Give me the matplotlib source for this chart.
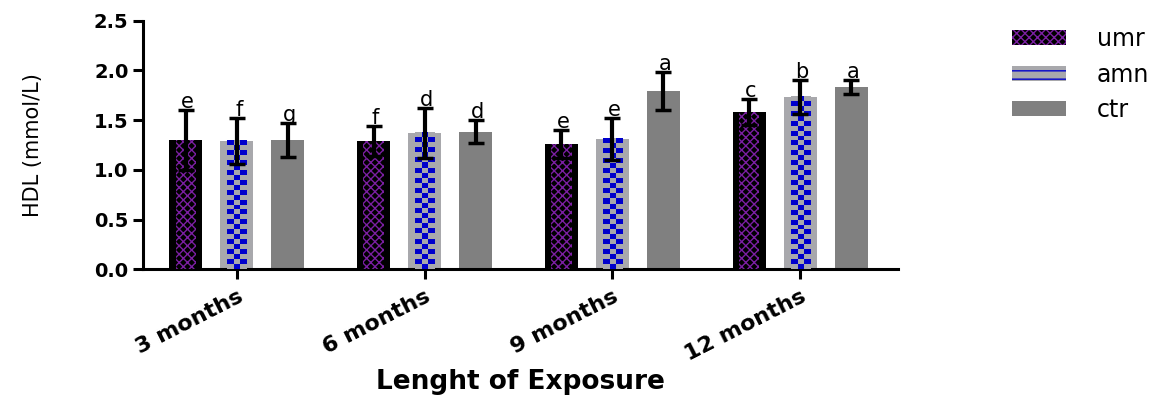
import numpy as np
import matplotlib
matplotlib.use('Agg')
import matplotlib.pyplot as plt
from matplotlib.patches import Patch
from matplotlib.colors import ListedColormap

# HDL values per exposure period (mean, error) for each group
periods = ['3 months', '6 months', '9 months', '12 months']
groups = ['umr', 'amn', 'ctr']

umr_mean = [1.30, 1.29, 1.26, 1.58]
umr_err = [0.30, 0.15, 0.14, 0.13]
amn_mean = [1.29, 1.37, 1.31, 1.73]
amn_err = [0.23, 0.25, 0.21, 0.17]
ctr_mean = [1.30, 1.385, 1.79, 1.83]
ctr_err = [0.17, 0.12, 0.19, 0.07]

umr_letters = ['e', 'f', 'e', 'c']
amn_letters = ['f', 'd', 'e', 'b']
ctr_letters = ['g', 'd', 'a', 'a']

purple = '#7b1fa2'
blue = '#0000cc'
light_gray = '#a8a8ac'
dark_gray = '#808080'

plt.rcParams['hatch.linewidth'] = 1.0

fig = plt.figure(figsize=(11.72, 3.95), dpi=100)
ax = fig.add_axes([0.122, 0.318, 0.644, 0.63])

x = np.arange(len(periods))
offset = 0.272
width = 0.176

# umr: black bar with purple cross-hatched core
ax.bar(x - offset, umr_mean, width, color='black', zorder=2)
ax.bar(x - offset, umr_mean, width * 0.62, color='black', edgecolor=purple,
       hatch='xxxx', linewidth=0, zorder=3)

# amn: light gray bar with a blue checker core
amn_bars = ax.bar(x, amn_mean, width, color=light_gray, zorder=2)
checker_cmap = ListedColormap([light_gray, blue])
for b in amn_bars:
    h = b.get_height()
    nrows = max(int(round(h / 0.05)), 1)
    checker = np.indices((nrows, 3)).sum(axis=0) % 2
    cx = b.get_x() + b.get_width() / 2
    w = b.get_width() * 0.58
    ax.imshow(checker, cmap=checker_cmap, extent=[cx - w / 2, cx + w / 2, 0, h],
              aspect='auto', interpolation='nearest', zorder=3, origin='lower')

# ctr: plain gray bar
ax.bar(x + offset, ctr_mean, width, color=dark_gray, zorder=2)

err_kw = dict(fmt='none', ecolor='black', elinewidth=3, capsize=6, capthick=2.5, zorder=5)
ax.errorbar(x - offset, umr_mean, yerr=umr_err, **err_kw)
ax.errorbar(x, amn_mean, yerr=amn_err, **err_kw)
ax.errorbar(x + offset, ctr_mean, yerr=ctr_err, **err_kw)

# significance letters above error bars
for xs, means, errs, letters in [(x - offset, umr_mean, umr_err, umr_letters),
                                 (x, amn_mean, amn_err, amn_letters),
                                 (x + offset, ctr_mean, ctr_err, ctr_letters)]:
    for xi, m, e, t in zip(xs, means, errs, letters):
        ax.text(xi + 0.01, m + e - 0.02, t, ha='center', va='bottom', fontsize=15,
                family='DejaVu Sans', zorder=6)

ax.set_xlim(-0.5, 3.52)
ax.set_ylim(0, 2.5)
yticks = np.arange(0, 2.51, 0.5)
ax.set_yticks(yticks)
ax.set_yticklabels([f'{v:.1f}' for v in yticks],
                   fontsize=14, fontweight='bold', family='DejaVu Sans')
ax.set_xticks(x)
ax.set_xticklabels(periods, rotation=27, ha='right', rotation_mode='anchor',
                   fontsize=16, fontweight='bold', family='DejaVu Sans')

for side in ['top', 'right']:
    ax.spines[side].set_visible(False)
for side in ['left', 'bottom']:
    ax.spines[side].set_linewidth(2.2)
ax.tick_params(axis='both', width=2.2, length=7, direction='out')
ax.tick_params(axis='x', pad=5)

ax.set_ylabel('HDL (mmol/L)', fontsize=15, family='DejaVu Sans')
ax.yaxis.set_label_coords(-0.133, 0.5)
ax.set_xlabel('Lenght of Exposure', fontsize=19, fontweight='bold',
              family='DejaVu Sans', va='center')
ax.xaxis.set_label_coords(0.5, -0.452)

handles = [
    Patch(facecolor='black', edgecolor=purple, hatch='xxxx', linewidth=0),
    Patch(facecolor=light_gray, edgecolor=blue, hatch='--', linewidth=0),
    Patch(facecolor=dark_gray, linewidth=0),
]
fig.legend(handles, groups, loc='upper left', bbox_to_anchor=(0.845, 0.985),
           frameon=False, prop={'family': 'DejaVu Sans', 'size': 17},
           handlelength=2.3, handleheight=0.6, labelspacing=0.48,
           handletextpad=1.3)

fig.savefig('out.png', dpi=100)
